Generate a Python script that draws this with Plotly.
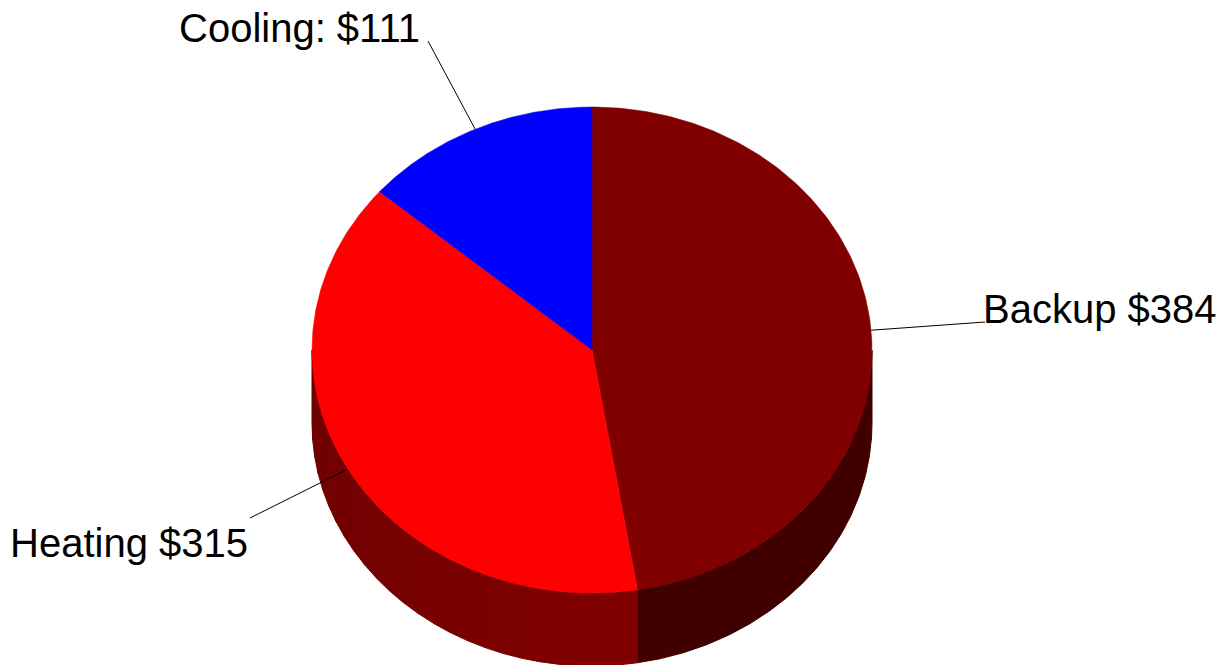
import numpy as np
import plotly.graph_objects as go

# ---- data ----
categories = ["Backup", "Heating", "Cooling"]
values = [384, 315, 111]
label_text = ["Backup $384", "Heating $315", "Cooling: $111"]
top_colors = ["#800000", "#FF0000", "#0000FF"]
side_colors_a = [(64, 0, 0), (110, 0, 0), (0, 0, 160)]   # colour near the outer edge
side_colors_b = [(64, 0, 0), (128, 0, 0), (0, 0, 160)]

# ---- geometry (pixels of the 1230x665 window) ----
W, H = 1230, 665
CX, CY, RX, RY, DEPTH = 592, 350, 280, 243, 73
label_pos = [(981, 309), (8, 543), (177, 28)]   # text anchor (left, middle)
leader_end = [(985, 322), (250, 518), (428, 41)]


def pt(theta_deg, dy=0.0):
    t = np.radians(theta_deg)
    return CX + RX * np.sin(t), CY - RY * np.cos(t) + dy


total = sum(values)
bounds = np.concatenate([[0], np.cumsum(values) / total * 360.0])

fig = go.Figure()

# ---- sides (visible from 90 deg to 270 deg, clockwise from 12 o'clock) ----
for i in range(len(values)):
    a0, a1 = max(bounds[i], 90.0), min(bounds[i + 1], 270.0)
    if a1 <= a0:
        continue
    uniform = side_colors_a[i] == side_colors_b[i]
    n = 1 if uniform else max(1, int(np.ceil((a1 - a0) / 4.0)))
    edges = np.linspace(a0, a1, n + 1)
    ca, cb = np.array(side_colors_a[i]), np.array(side_colors_b[i])
    for k in range(n):
        s, e = edges[k], edges[k + 1]
        th = np.linspace(s, e, max(6, int(e - s) * 2))
        xt, yt = pt(th)
        xb, yb = pt(th[::-1], DEPTH)
        frac = (k + 0.5) / n
        c = cb + (ca - cb) * frac
        col = "rgb(%d,%d,%d)" % tuple(int(round(v)) for v in c)
        fig.add_trace(go.Scatter(
            x=np.concatenate([xt, xb, xt[:1]]), y=np.concatenate([yt, yb, yt[:1]]),
            mode="lines", fill="toself", fillcolor=col,
            line=dict(color=col, width=1), hoverinfo="skip", showlegend=False))

# ---- top faces ----
for i in range(len(values)):
    th = np.linspace(bounds[i], bounds[i + 1], 200)
    xa, ya = pt(th)
    fig.add_trace(go.Scatter(
        x=np.concatenate([[CX], xa, [CX]]), y=np.concatenate([[CY], ya, [CY]]),
        mode="lines", fill="toself", fillcolor=top_colors[i],
        line=dict(color=top_colors[i], width=0.5), name=categories[i],
        hoverinfo="name", showlegend=False))

# ---- leader lines and labels ----
for i in range(len(values)):
    mid = (bounds[i] + bounds[i + 1]) / 2.0
    sx, sy = pt(mid)
    ex, ey = leader_end[i]
    fig.add_trace(go.Scatter(x=[sx, ex], y=[sy, ey], mode="lines",
                             line=dict(color="black", width=1),
                             hoverinfo="skip", showlegend=False))
    fig.add_annotation(x=label_pos[i][0], y=label_pos[i][1], text=label_text[i],
                       showarrow=False, xanchor="left", yanchor="middle",
                       font=dict(family="Liberation Sans, Arial", size=40, color="black"))

fig.update_layout(
    width=W, height=H, margin=dict(l=0, r=0, t=0, b=0),
    paper_bgcolor="white", plot_bgcolor="white",
    xaxis=dict(range=[0, W], visible=False, fixedrange=True),
    yaxis=dict(range=[H, 0], visible=False, fixedrange=True),
)

fig.write_html("out.html", config={"displayModeBar": False},
               post_script="document.body.style.margin='0px';document.body.style.overflow='hidden';")
